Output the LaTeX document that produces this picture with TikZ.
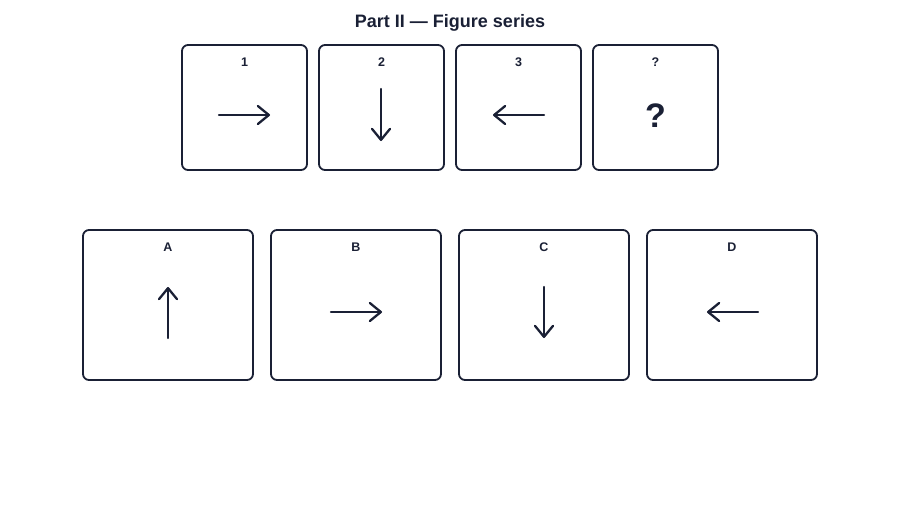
\documentclass[tikz,border=0pt]{standalone}
\usepackage{fontspec}
\setmainfont{Liberation Sans}
\usetikzlibrary{arrows.meta}
\definecolor{ink}{HTML}{1A2035}
\begin{document}
\begin{tikzpicture}[x=1pt,y=-1pt,
  card/.style={draw=ink,line width=1.8pt,rounded corners=6pt,fill=white},
  lbl/.style={text=ink,font=\bfseries\fontsize{12.5}{14}\selectfont,anchor=center},
  arr/.style={draw=ink,line width=2.3pt,line cap=round,-{Straight Barb[length=11pt,width=18pt,line cap=round,line join=round]}},
  ttl/.style={text=ink,font=\bfseries\fontsize{18}{20}\selectfont}]
\useasboundingbox (0,0) rectangle (900,520);
\node[ttl] (title) at (450,22.5) {Part II — Figure series};
% top row
\draw[card] (182,45) rectangle (307,170);
\draw[card] (319,45) rectangle (444,170);
\draw[card] (456,45) rectangle (581,170);
\draw[card] (593,45) rectangle (718,170);
\node[lbl] (l1) at (244.5,62.5) {1};
\node[lbl] (l2) at (381.5,62.5) {2};
\node[lbl] (l3) at (518.5,62.5) {3};
\node[lbl] (l4) at (655.5,62.5) {?};
\coordinate (a1s) at (219,115); \coordinate (a1e) at (270,115);
\coordinate (a2s) at (381,89); \coordinate (a2e) at (381,141);
\coordinate (a3s) at (544,115); \coordinate (a3e) at (493,115);
\draw[arr] (a1s) -- (a1e);
\draw[arr] (a2s) -- (a2e);
\draw[arr] (a3s) -- (a3e);
\node[text=ink,font=\bfseries\fontsize{34}{36}\selectfont] (q) at (655.5,116) {?};
% bottom row
\draw[card] (83,230) rectangle (253,380);
\draw[card] (271,230) rectangle (441,380);
\draw[card] (459,230) rectangle (629,380);
\draw[card] (647,230) rectangle (817,380);
\node[lbl] (lA) at (168,247.5) {A};
\node[lbl] (lB) at (356,247.5) {B};
\node[lbl] (lC) at (544,247.5) {C};
\node[lbl] (lD) at (732,247.5) {D};
\coordinate (aAs) at (168,338); \coordinate (aAe) at (168,287);
\coordinate (aBs) at (331,312); \coordinate (aBe) at (382,312);
\coordinate (aCs) at (544,287); \coordinate (aCe) at (544,338);
\coordinate (aDs) at (758,312); \coordinate (aDe) at (707,312);
\draw[arr] (aAs) -- (aAe);
\draw[arr] (aBs) -- (aBe);
\draw[arr] (aCs) -- (aCe);
\draw[arr] (aDs) -- (aDe);
\end{tikzpicture}
\end{document}
